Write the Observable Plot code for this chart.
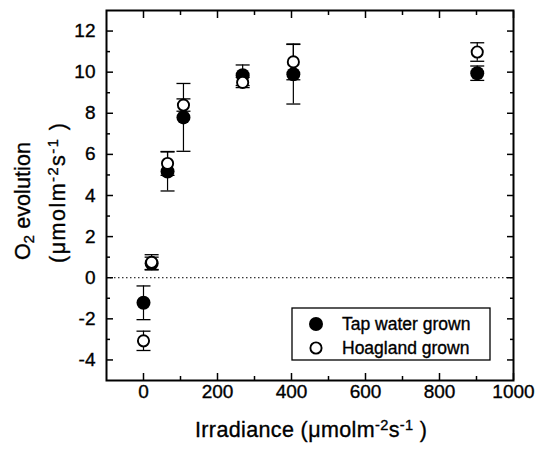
<!DOCTYPE html>
<html><head><meta charset="utf-8">
<script src="https://cdn.jsdelivr.net/npm/d3@7"></script>
<script src="https://cdn.jsdelivr.net/npm/@observablehq/plot@0.6"></script>
<style>body{margin:0;background:#fff} svg text{stroke:black;stroke-width:0.35px}</style>
</head><body><div id="chart"></div>
<script>
// Data
const irradiance = [0, 22, 65, 108, 268, 405, 902];
const tapWater = [-1.22, 0.70, 5.17, 7.80, 9.85, 9.90, 9.95];
const tapWaterErr = [0.82, 0.30, 0.95, 1.65, 0.50, 1.45, 0.35];
const hoagland = [-3.07, 0.75, 5.56, 8.40, 9.50, 10.50, 10.98];
const hoaglandErr = [0.47, 0.37, 0.58, 0.30, 0.25, 0.87, 0.45];
const seriesNames = ["Tap water grown", "Hoagland grown"];
const xMajor = [0, 200, 400, 600, 800, 1000];
const xMinor = [100, 300, 500, 700, 900];
const yMajor = [-4, -2, 0, 2, 4, 6, 8, 10, 12];
const yMinor = [-3, -1, 1, 3, 5, 7, 9, 11];

const tap = irradiance.map((x, i) => ({x, y: tapWater[i], lo: tapWater[i] - tapWaterErr[i], hi: tapWater[i] + tapWaterErr[i]}));
const hoag = irradiance.map((x, i) => ({x, y: hoagland[i], lo: hoagland[i] - hoaglandErr[i], hi: hoagland[i] + hoaglandErr[i]}));
const all = tap.concat(hoag);

const cap = {draw(ctx, size) { const r = Math.sqrt(size / Math.PI); ctx.moveTo(-r, 0); ctx.lineTo(r, 0); }};
const font = "Liberation Sans, Arial, Helvetica, sans-serif";
const plain = d => String(d);

const chart = Plot.plot({
  width: 537, height: 452,
  marginLeft: 106, marginRight: 24, marginTop: 10, marginBottom: 72,
  style: {fontFamily: font, fontSize: "19px", color: "black", background: "white"},
  x: {domain: [-100, 1000]},
  y: {domain: [-5, 13]},
  marks: [
    Plot.ruleY([0], {stroke: "black", strokeWidth: 1, strokeDasharray: "1.5,2.5"}),
    Plot.ruleX(all, {x: "x", y1: "lo", y2: "hi", stroke: "black", strokeWidth: 1.2}),
    Plot.dot(all, {x: "x", y: "lo", symbol: cap, r: 7, stroke: "black", strokeWidth: 1.3}),
    Plot.dot(all, {x: "x", y: "hi", symbol: cap, r: 7, stroke: "black", strokeWidth: 1.3}),
    Plot.dot(tap, {x: "x", y: "y", r: 7, fill: "black", stroke: "none"}),
    Plot.dot(hoag, {x: "x", y: "y", r: 5.6, fill: "white", stroke: "black", strokeWidth: 1.9}),
    // axes (inward ticks)
    Plot.axisX(xMajor, {anchor: "bottom", tickSize: -7, tickPadding: 11, strokeWidth: 1.5, label: null, fontSize: 19, tickFormat: plain}),
    Plot.axisX(xMinor, {anchor: "bottom", tickSize: -4, fill: "none", strokeWidth: 1.5, label: null}),
    Plot.axisX(xMajor, {anchor: "top", tickSize: -7, fill: "none", strokeWidth: 1.5, label: null}),
    Plot.axisX(xMinor, {anchor: "top", tickSize: -4, fill: "none", strokeWidth: 1.5, label: null}),
    Plot.axisY(yMajor, {anchor: "left", tickSize: -7, tickPadding: 18, strokeWidth: 1.5, label: null, fontSize: 19, tickFormat: plain}),
    Plot.axisY(yMinor, {anchor: "left", tickSize: -4, fill: "none", strokeWidth: 1.5, label: null}),
    Plot.axisY(yMajor, {anchor: "right", tickSize: -7, fill: "none", strokeWidth: 1.5, label: null}),
    Plot.axisY(yMinor, {anchor: "right", tickSize: -4, fill: "none", strokeWidth: 1.5, label: null}),
    Plot.frame({stroke: "black", strokeWidth: 2})
  ]
});
document.getElementById("chart").appendChild(chart);

const svg = d3.select(chart);
// text with superscripts / subscripts; the offset is undone on the following part
function rich(sel, parts) {
  let back = 0;
  parts.forEach(p => {
    if (typeof p === "string") {
      const t = sel.append("tspan").text(p);
      if (back) t.attr("dy", back + "em");
      back = 0;
    } else if (p.sup) {
      sel.append("tspan").attr("dy", "-0.5em").attr("font-size", "0.68em").text(p.sup);
      back = 0.34;
    } else if (p.sub) {
      sel.append("tspan").attr("dy", "0.3em").attr("font-size", "0.68em").text(p.sub);
      back = -0.2;
    }
  });
}
// x title
const xt = svg.append("text").attr("x", 311).attr("y", 437).attr("text-anchor", "middle")
  .attr("font-family", font).attr("font-size", 21.5).attr("fill", "black");
rich(xt, ["Irradiance (\u03BCmolm", {sup: "-2"}, "s", {sup: "-1"}, " )"]);
xt.attr("textLength", 232).attr("lengthAdjust", "spacing");

// y title, two lines
const y1 = svg.append("text").attr("transform", "translate(30,201) rotate(-90)").attr("text-anchor", "middle")
  .attr("font-family", font).attr("font-size", 21.5).attr("fill", "black");
rich(y1, ["O", {sub: "2"}, " evolution"]);
y1.attr("textLength", 118).attr("lengthAdjust", "spacing");
const y2 = svg.append("text").attr("transform", "translate(65,193) rotate(-90)").attr("text-anchor", "middle")
  .attr("font-family", font).attr("font-size", 21.5).attr("fill", "black");
rich(y2, ["(\u03BCmolm", {sup: "-2"}, "s", {sup: "-1"}, " )"]);
y2.attr("textLength", 140).attr("lengthAdjust", "spacing");

// legend
const lg = svg.append("g").attr("font-family", font).attr("font-size", 17.5).attr("text-anchor", "start");
lg.append("rect").attr("x", 292).attr("y", 308).attr("width", 198).attr("height", 52)
  .attr("fill", "white").attr("stroke", "black").attr("stroke-width", 1.3);
lg.append("circle").attr("cx", 316).attr("cy", 324).attr("r", 7).attr("fill", "black");
lg.append("circle").attr("cx", 316).attr("cy", 348).attr("r", 5.6).attr("fill", "white").attr("stroke", "black").attr("stroke-width", 1.9);
lg.append("text").attr("x", 342).attr("y", 330).attr("text-anchor", "start").text(seriesNames[0]);
lg.append("text").attr("x", 342).attr("y", 354).attr("text-anchor", "start").text(seriesNames[1]);
</script>
</body></html>
